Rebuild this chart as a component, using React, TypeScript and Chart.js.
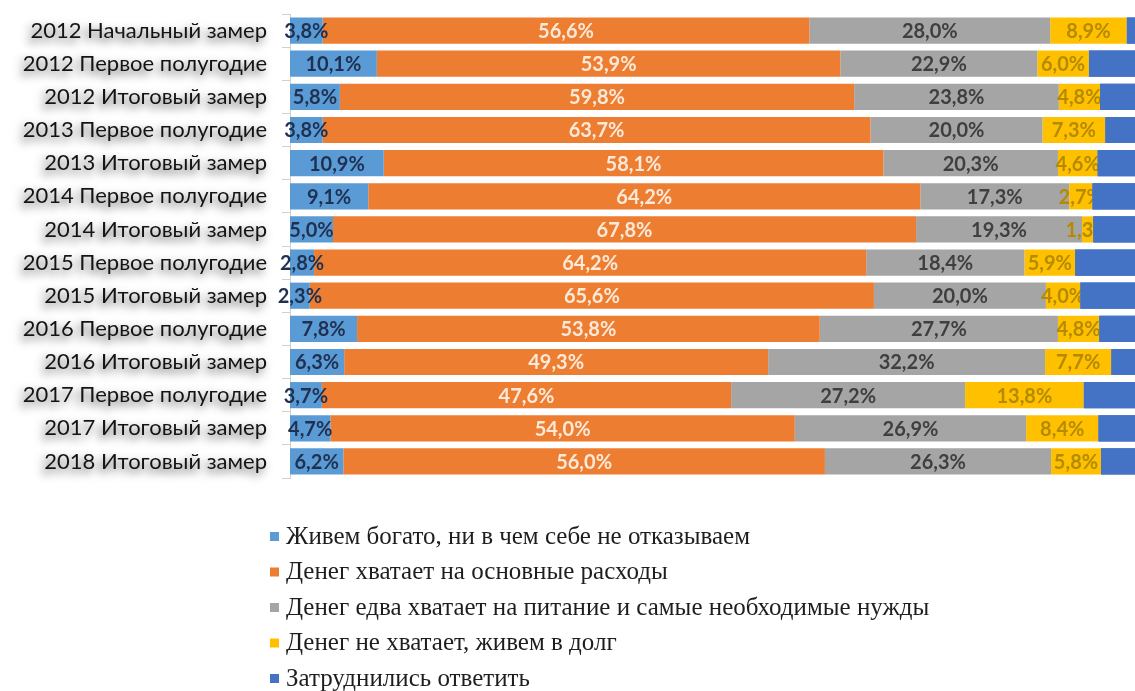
import React, { useEffect, useRef } from "react";
import { Chart, registerables } from "chart.js";

Chart.register(...registerables);

const categories = [
  "2012 Начальный замер",
  "2012 Первое полугодие",
  "2012 Итоговый замер",
  "2013 Первое полугодие",
  "2013 Итоговый замер",
  "2014 Первое полугодие",
  "2014 Итоговый замер",
  "2015 Первое полугодие",
  "2015 Итоговый замер",
  "2016 Первое полугодие",
  "2016 Итоговый замер",
  "2017 Первое полугодие",
  "2017 Итоговый замер",
  "2018 Итоговый замер",
];

const seriesNames = [
  "Живем богато, ни в чем себе не отказываем",
  "Денег хватает на основные расходы",
  "Денег едва хватает на питание и самые необходимые нужды",
  "Денег не хватает, живем в долг",
  "Затруднились ответить",
];

const richValues = [3.8, 10.1, 5.8, 3.8, 10.9, 9.1, 5.0, 2.8, 2.3, 7.8, 6.3, 3.7, 4.7, 6.2];
const basicValues = [56.6, 53.9, 59.8, 63.7, 58.1, 64.2, 67.8, 64.2, 65.6, 53.8, 49.3, 47.6, 54.0, 56.0];
const barelyValues = [28.0, 22.9, 23.8, 20.0, 20.3, 17.3, 19.3, 18.4, 20.0, 27.7, 32.2, 27.2, 26.9, 26.3];
const debtValues = [8.9, 6.0, 4.8, 7.3, 4.6, 2.7, 1.3, 5.9, 4.0, 4.8, 7.7, 13.8, 8.4, 5.8];
const noAnswerValues = [2.7, 7.1, 5.8, 5.2, 6.1, 6.7, 6.6, 8.7, 8.1, 5.9, 4.5, 7.7, 6.0, 5.7];

// visible part of the 0..100% axis (chart is cropped on the right)
const xAxisMax = 98.26;

const seriesColors = ["#5b9bd5", "#ed7d31", "#a5a5a5", "#ffc000", "#4472c4"];
const labelColors = ["#1f3050", "#fde9d9", "#3f3f3f", "#b38a00"];

const fmt = (v: number) => v.toFixed(1).replace(".", ",") + "%";

const yShadowPlugin = {
  id: "yShadow",
  afterLayout(chart: any) {
    const s: any = chart.scales.y;
    if (!s || s.__wrapped) return;
    const orig = s.drawLabels.bind(s);
    s.drawLabels = (area: any) => {
      const ctx = chart.ctx;
      ctx.save();
      ctx.shadowColor = "rgba(0,0,0,0.7)";
      ctx.shadowBlur = 10;
      ctx.shadowOffsetX = -3;
      ctx.shadowOffsetY = 4;
      orig(area);
      ctx.restore();
    };
    s.__wrapped = true;
  },
};

const segLabelPlugin = {
  id: "segLabels",
  afterDatasetsDraw(chart: any) {
    const ctx = chart.ctx;
    ctx.save();
    ctx.textAlign = "center";
    ctx.textBaseline = "middle";
    ctx.font = "bold 20px Lato";
    for (let d = 0; d < 4; d++) {
      const meta = chart.getDatasetMeta(d);
      meta.data.forEach((el: any, i: number) => {
        const v = chart.data.datasets[d].data[i] as number;
        const p = el.getProps(["x", "y", "base"], true);
        ctx.fillStyle = labelColors[d];
        ctx.fillText(fmt(v), (p.x + p.base) / 2, p.y + 1);
      });
    }
    ctx.restore();
    // last series is drawn over the labels that overflow into it
    chart.getDatasetMeta(4).data.forEach((el: any) => el.draw(ctx));
  },
};

const legendPlugin = {
  id: "vLegend",
  afterDraw(chart: any) {
    const ctx = chart.ctx;
    ctx.save();
    ctx.font = '25px "Liberation Serif"';
    ctx.textBaseline = "middle";
    ctx.textAlign = "left";
    chart.data.datasets.forEach((ds: any, i: number) => {
      const y = 536 + i * 35.5;
      ctx.fillStyle = ds.backgroundColor;
      ctx.fillRect(270, y - 4, 9, 9);
      ctx.fillStyle = "#1e1e1e";
      ctx.fillText(ds.label, 286, y + 1);
    });
    ctx.restore();
  },
};

export default function App() {
  const ref = useRef<HTMLCanvasElement>(null);

  useEffect(() => {
    if (!ref.current) return;
    const values = [richValues, basicValues, barelyValues, debtValues, noAnswerValues];
    const chart = new Chart(ref.current, {
      type: "bar",
      data: {
        labels: categories,
        datasets: values.map((vals, i) => ({
          label: seriesNames[i],
          data: vals,
          backgroundColor: seriesColors[i],
          borderWidth: 0,
          barPercentage: 0.79,
          categoryPercentage: 1,
        })),
      },
      options: {
        indexAxis: "y",
        animation: false,
        responsive: true,
        maintainAspectRatio: false,
        layout: { padding: { top: 14, bottom: 213, left: 0, right: 0 } },
        plugins: {
          legend: { display: false },
          tooltip: { enabled: false },
        },
        scales: {
          x: {
            stacked: true,
            min: 0,
            max: xAxisMax,
            display: false,
          },
          y: {
            stacked: true,
            grid: {
              drawOnChartArea: false,
              drawTicks: true,
              tickLength: 8,
              color: "#d0d0d0",
              offset: true,
            },
            border: { display: true, color: "#d0d0d0" },
            ticks: {
              autoSkip: false,
              padding: 15,
              color: "#141414",
              font: { family: "Lato", size: 22 },
            },
            afterFit(scale: any) {
              scale.width = 290;
              scale.paddingTop = 0;
              scale.paddingBottom = 0;
            },
          },
        },
      },
      plugins: [yShadowPlugin, segLabelPlugin, legendPlugin],
    });
    return () => chart.destroy();
  }, []);

  return (
    <div style={{ position: "fixed", left: 0, top: 0, width: 1135, height: 691, background: "#fff" }}>
      <canvas ref={ref} />
    </div>
  );
}
